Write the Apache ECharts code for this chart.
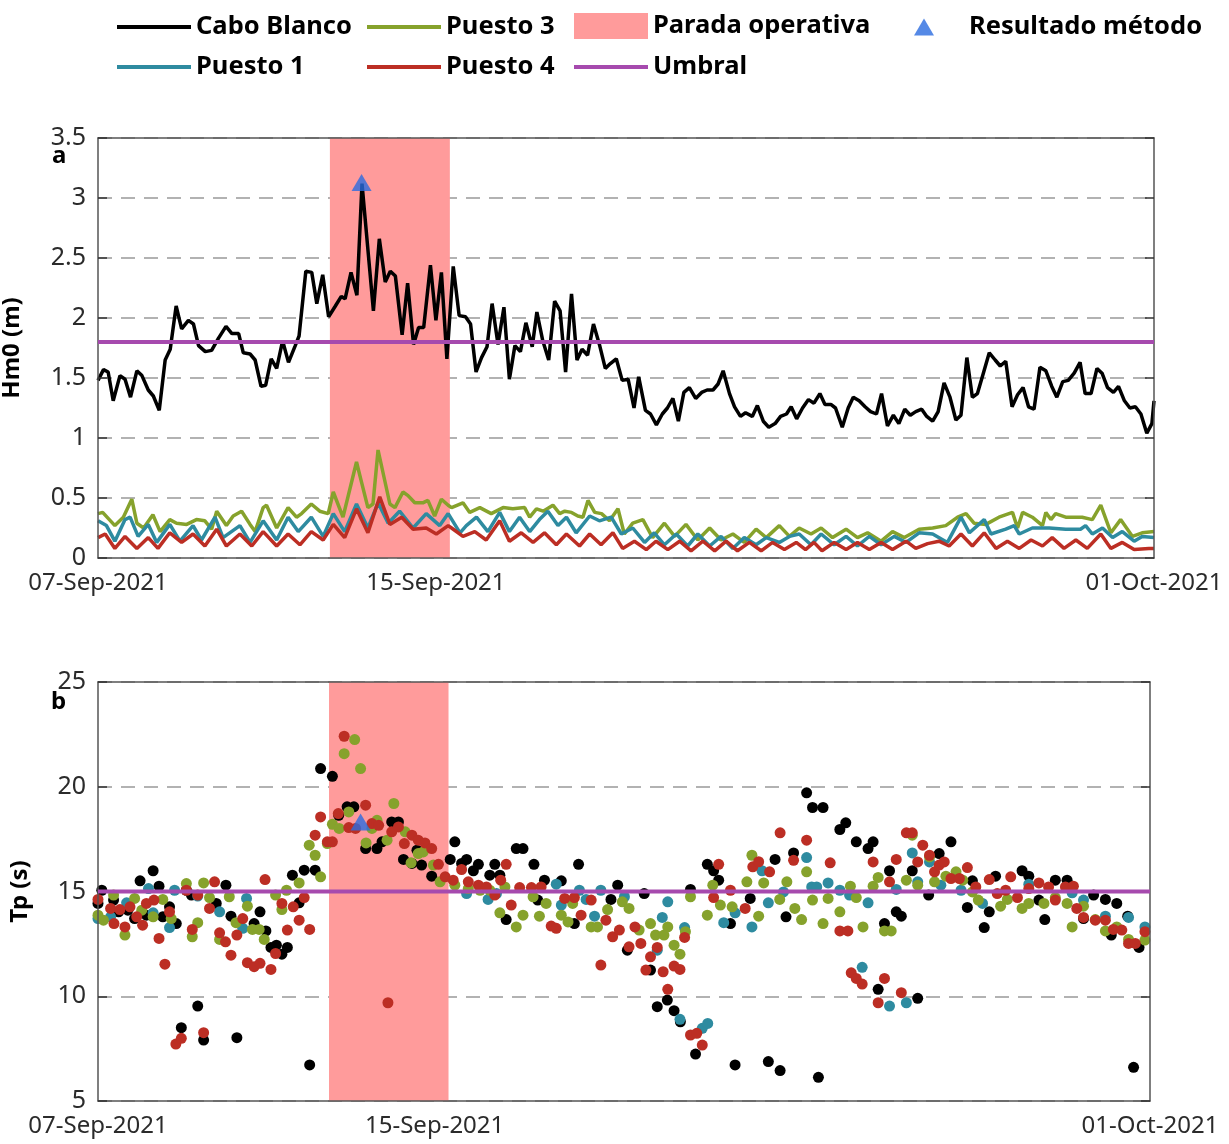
<!DOCTYPE html>
<html>
<head>
<meta charset="utf-8">
<script src="https://cdn.jsdelivr.net/npm/echarts@6/dist/echarts.min.js"></script>
<style>html,body{margin:0;padding:0;background:#fff}#chart{width:1229px;height:1144px}</style>
</head>
<body>
<div id="chart"></div>
<script>
// x values are days counted from 07-Sep-2021 00:00
var xLabelDays = [0, 8, 25];
var xLabelText = ['07-Sep-2021', '15-Sep-2021', '01-Oct-2021'];

var paradaStart = 5.49, paradaEnd = 8.33;
var umbralHm0 = 1.8, umbralTp = 15;
var resultadoHm0 = [[6.24, 3.13]];
var resultadoTp = [[6.24, 18.32]];

// Hm0 (m)
var caboHm0 = [[0,1.48],[0.13,1.57],[0.24,1.55],[0.36,1.31],[0.52,1.52],[0.64,1.49],[0.77,1.34],[0.92,1.56],[1.04,1.52],[1.19,1.40],[1.31,1.35],[1.45,1.23],[1.59,1.65],[1.71,1.74],[1.85,2.10],[1.98,1.91],[2.14,1.98],[2.26,1.95],[2.38,1.77],[2.54,1.72],[2.69,1.73],[2.85,1.83],[3.03,1.93],[3.17,1.87],[3.33,1.87],[3.44,1.71],[3.60,1.70],[3.72,1.65],[3.86,1.43],[3.97,1.44],[4.10,1.66],[4.23,1.58],[4.37,1.81],[4.51,1.63],[4.67,1.77],[4.76,1.85],[4.92,2.39],[5.06,2.38],[5.18,2.12],[5.32,2.36],[5.46,2.01],[5.62,2.10],[5.76,2.18],[5.85,2.16],[5.99,2.38],[6.13,2.19],[6.25,3.12],[6.52,2.06],[6.66,2.66],[6.80,2.30],[6.92,2.39],[7.04,2.35],[7.20,1.86],[7.33,2.29],[7.47,1.78],[7.59,1.92],[7.71,1.92],[7.87,2.44],[8.00,1.98],[8.13,2.38],[8.26,1.66],[8.41,2.43],[8.55,2.02],[8.70,2.01],[8.82,1.95],[8.95,1.55],[9.08,1.67],[9.21,1.76],[9.33,2.12],[9.47,1.78],[9.61,2.09],[9.74,1.49],[9.87,1.77],[10.00,1.72],[10.13,1.96],[10.28,1.76],[10.39,2.05],[10.53,1.81],[10.67,1.65],[10.81,2.14],[10.94,2.06],[11.07,1.55],[11.21,2.20],[11.34,1.65],[11.46,1.74],[11.59,1.69],[11.73,1.95],[11.87,1.78],[12.01,1.58],[12.13,1.62],[12.27,1.66],[12.41,1.48],[12.55,1.49],[12.69,1.25],[12.80,1.51],[12.96,1.23],[13.08,1.20],[13.22,1.11],[13.36,1.20],[13.48,1.25],[13.61,1.33],[13.74,1.14],[13.87,1.38],[14.00,1.42],[14.15,1.33],[14.29,1.38],[14.42,1.40],[14.56,1.40],[14.68,1.45],[14.80,1.56],[14.95,1.37],[15.07,1.26],[15.21,1.18],[15.33,1.21],[15.49,1.18],[15.61,1.27],[15.75,1.14],[15.88,1.09],[16.03,1.12],[16.16,1.18],[16.30,1.20],[16.41,1.26],[16.54,1.16],[16.68,1.25],[16.82,1.32],[16.95,1.29],[17.09,1.37],[17.21,1.28],[17.35,1.28],[17.46,1.25],[17.62,1.09],[17.76,1.25],[17.88,1.34],[18.02,1.31],[18.16,1.26],[18.29,1.22],[18.43,1.20],[18.55,1.37],[18.69,1.10],[18.83,1.19],[18.96,1.12],[19.10,1.24],[19.23,1.19],[19.36,1.22],[19.50,1.24],[19.62,1.18],[19.76,1.14],[19.89,1.22],[20.03,1.46],[20.17,1.34],[20.31,1.15],[20.43,1.19],[20.57,1.67],[20.70,1.34],[20.82,1.37],[20.96,1.54],[21.10,1.71],[21.24,1.65],[21.36,1.60],[21.49,1.64],[21.64,1.26],[21.77,1.36],[21.90,1.42],[22.03,1.26],[22.16,1.24],[22.30,1.59],[22.44,1.56],[22.58,1.43],[22.70,1.34],[22.84,1.47],[22.97,1.48],[23.11,1.54],[23.25,1.63],[23.37,1.37],[23.51,1.37],[23.65,1.58],[23.77,1.54],[23.90,1.42],[24.04,1.38],[24.16,1.43],[24.30,1.31],[24.43,1.25],[24.56,1.26],[24.69,1.20],[24.83,1.04],[24.95,1.12],[25.00,1.31]];

var puesto1Hm0 = [[0,0.31],[0.20,0.27],[0.40,0.14],[0.64,0.32],[0.76,0.34],[0.95,0.18],[1.19,0.28],[1.39,0.13],[1.70,0.28],[1.94,0.14],[2.25,0.27],[2.45,0.15],[2.77,0.34],[2.96,0.17],[3.36,0.27],[3.60,0.13],[3.91,0.31],[4.23,0.15],[4.50,0.34],[4.74,0.22],[5.05,0.34],[5.33,0.18],[5.57,0.37],[5.84,0.22],[6.12,0.45],[6.39,0.25],[6.63,0.46],[6.87,0.29],[7.14,0.39],[7.46,0.25],[7.77,0.37],[8.09,0.27],[8.29,0.37],[8.57,0.21],[8.72,0.27],[8.96,0.34],[9.23,0.22],[9.51,0.38],[9.74,0.22],[9.98,0.34],[10.22,0.22],[10.45,0.32],[10.65,0.39],[10.89,0.27],[11.09,0.34],[11.32,0.21],[11.64,0.35],[11.87,0.31],[12.15,0.34],[12.39,0.20],[12.66,0.25],[12.94,0.13],[13.17,0.21],[13.41,0.11],[13.69,0.20],[13.96,0.10],[14.20,0.20],[14.48,0.10],[14.75,0.18],[15.03,0.08],[15.30,0.17],[15.58,0.11],[15.82,0.17],[16.13,0.13],[16.37,0.18],[16.60,0.20],[16.88,0.11],[17.12,0.20],[17.43,0.11],[17.71,0.18],[17.98,0.10],[18.26,0.18],[18.54,0.11],[18.85,0.18],[19.13,0.13],[19.44,0.21],[19.76,0.20],[20.11,0.13],[20.43,0.34],[20.63,0.21],[20.98,0.32],[21.14,0.20],[21.49,0.24],[21.69,0.27],[21.81,0.20],[22.12,0.25],[22.52,0.25],[22.91,0.24],[23.26,0.24],[23.38,0.27],[23.54,0.20],[23.78,0.25],[24.02,0.17],[24.25,0.22],[24.53,0.14],[24.72,0.18],[25.00,0.17]];

var puesto3Hm0 = [[0,0.37],[0.11,0.38],[0.40,0.27],[0.60,0.34],[0.80,0.49],[0.92,0.29],[1.08,0.25],[1.30,0.36],[1.47,0.22],[1.70,0.32],[1.86,0.29],[2.10,0.28],[2.33,0.32],[2.53,0.31],[2.69,0.24],[2.81,0.39],[3.04,0.27],[3.20,0.35],[3.40,0.39],[3.60,0.28],[3.72,0.22],[3.91,0.42],[3.99,0.44],[4.23,0.25],[4.50,0.42],[4.70,0.34],[4.82,0.37],[5.05,0.45],[5.25,0.39],[5.45,0.37],[5.57,0.55],[5.80,0.34],[6.12,0.80],[6.24,0.63],[6.39,0.42],[6.51,0.45],[6.63,0.90],[6.91,0.45],[7.03,0.42],[7.22,0.55],[7.34,0.52],[7.50,0.46],[7.69,0.46],[7.81,0.48],[7.97,0.35],[8.13,0.49],[8.29,0.44],[8.37,0.42],[8.64,0.46],[8.80,0.38],[9.04,0.42],[9.31,0.37],[9.59,0.42],[9.82,0.41],[10.10,0.42],[10.22,0.34],[10.38,0.41],[10.54,0.39],[10.77,0.44],[10.93,0.37],[11.05,0.39],[11.21,0.38],[11.36,0.35],[11.48,0.34],[11.60,0.48],[11.76,0.38],[11.92,0.37],[12.11,0.31],[12.31,0.41],[12.46,0.20],[12.66,0.29],[12.90,0.32],[13.13,0.17],[13.41,0.29],[13.65,0.18],[13.92,0.28],[14.20,0.15],[14.48,0.25],[14.75,0.15],[15.03,0.20],[15.30,0.13],[15.58,0.24],[15.82,0.17],[16.13,0.27],[16.37,0.18],[16.60,0.25],[16.88,0.20],[17.12,0.25],[17.39,0.17],[17.71,0.24],[17.98,0.17],[18.22,0.21],[18.54,0.14],[18.81,0.22],[19.09,0.17],[19.44,0.24],[19.76,0.25],[20.07,0.27],[20.35,0.34],[20.55,0.37],[20.74,0.29],[21.02,0.28],[21.33,0.34],[21.65,0.38],[21.77,0.25],[21.89,0.38],[22.12,0.34],[22.36,0.27],[22.44,0.38],[22.56,0.32],[22.67,0.37],[22.91,0.34],[23.30,0.34],[23.54,0.32],[23.74,0.44],[23.98,0.21],[24.21,0.32],[24.49,0.18],[24.72,0.21],[25.00,0.22]];

var puesto4Hm0 = [[0,0.17],[0.17,0.20],[0.40,0.08],[0.64,0.18],[0.92,0.08],[1.19,0.17],[1.42,0.08],[1.70,0.21],[1.98,0.13],[2.25,0.20],[2.53,0.10],[2.81,0.24],[3.04,0.10],[3.36,0.20],[3.64,0.10],[3.91,0.22],[4.23,0.10],[4.50,0.20],[4.78,0.11],[5.05,0.22],[5.33,0.15],[5.57,0.28],[5.84,0.17],[6.12,0.41],[6.39,0.21],[6.67,0.51],[6.91,0.28],[7.19,0.34],[7.46,0.24],[7.77,0.25],[8.01,0.20],[8.29,0.27],[8.37,0.25],[8.64,0.18],[8.92,0.22],[9.19,0.15],[9.51,0.31],[9.74,0.14],[10.02,0.21],[10.30,0.13],[10.57,0.21],[10.85,0.11],[11.09,0.20],[11.40,0.10],[11.64,0.20],[11.91,0.11],[12.19,0.21],[12.42,0.08],[12.70,0.14],[12.98,0.07],[13.21,0.14],[13.49,0.07],[13.77,0.14],[14.04,0.06],[14.32,0.14],[14.60,0.06],[14.87,0.14],[15.14,0.06],[15.42,0.13],[15.70,0.06],[15.97,0.13],[16.25,0.07],[16.53,0.13],[16.75,0.07],[16.95,0.13],[17.14,0.06],[17.43,0.13],[17.71,0.07],[17.98,0.13],[18.26,0.07],[18.54,0.13],[18.81,0.07],[19.13,0.14],[19.36,0.08],[19.64,0.12],[19.91,0.14],[20.15,0.10],[20.43,0.20],[20.70,0.10],[20.98,0.21],[21.26,0.08],[21.53,0.14],[21.81,0.08],[22.09,0.15],[22.36,0.10],[22.59,0.17],[22.87,0.08],[23.15,0.15],[23.42,0.08],[23.74,0.20],[23.98,0.08],[24.25,0.13],[24.53,0.07],[24.88,0.08],[25.00,0.08]];

// Tp (s)
var caboTp = [[0,14.43],[0.09,15.06],[0.37,14.59],[0.49,14.03],[0.71,14.11],[0.87,13.71],[1.0,15.51],[1.15,13.87],[1.31,15.99],[1.45,15.25],[1.54,13.79],[1.70,14.27],[1.86,13.47],[1.98,8.50],[2.10,15.06],[2.22,14.83],[2.37,9.53],[2.51,7.91],[2.81,14.43],[3.04,15.30],[3.16,13.82],[3.30,8.02],[3.71,13.47],[3.85,14.03],[3.99,13.12],[4.11,12.33],[4.24,12.44],[4.37,12.01],[4.50,12.33],[4.62,15.78],[4.78,14.46],[4.90,16.02],[5.03,6.72],[5.16,16.02],[5.29,20.87],[5.57,20.50],[5.72,18.64],[5.92,19.04],[6.08,19.04],[6.36,17.05],[6.63,17.05],[6.75,17.37],[6.98,18.32],[7.14,18.32],[7.26,16.53],[7.46,16.34],[7.58,16.97],[7.69,16.26],[7.93,15.73],[8.37,16.53],[8.48,17.37],[8.64,16.34],[8.76,16.53],[8.92,15.99],[9.04,16.30],[9.31,15.78],[9.43,16.30],[9.55,15.78],[9.70,13.66],[9.94,17.05],[10.10,17.05],[10.36,16.30],[10.45,14.59],[10.61,15.54],[11.01,15.51],[11.32,13.47],[11.42,16.30],[12.19,14.62],[12.35,15.30],[12.58,12.20],[12.98,14.90],[13.13,11.25],[13.29,9.50],[13.53,9.82],[13.69,9.31],[13.84,8.78],[14.08,15.10],[14.20,7.24],[14.48,16.30],[14.63,15.99],[14.75,15.54],[15.03,13.47],[15.14,6.72],[15.50,14.67],[15.93,6.88],[16.09,16.53],[16.21,6.45],[16.35,13.79],[16.53,16.84],[16.84,19.71],[16.98,19.01],[17.12,6.13],[17.23,19.01],[17.63,17.96],[17.77,18.28],[18.02,17.37],[18.30,17.05],[18.42,17.37],[18.54,10.33],[18.69,13.47],[18.81,15.99],[18.97,14.03],[19.09,13.82],[19.35,15.99],[19.48,9.90],[19.74,14.83],[19.99,16.81],[20.27,17.37],[20.66,14.24],[20.78,15.51],[21.06,13.28],[21.18,14.03],[21.33,15.73],[21.96,15.99],[22.12,15.73],[22.36,14.59],[22.50,13.66],[22.75,15.54],[23.03,15.54],[23.42,13.71],[23.66,14.83],[23.94,14.62],[24.08,12.92],[24.21,14.43],[24.47,13.82],[24.61,6.61],[24.74,12.33]];

var puesto1Tp = [[0,13.71],[0.30,13.79],[0.68,14.46],[1.20,15.14],[1.31,13.98],[1.70,13.28],[1.82,15.06],[2.37,14.78],[2.89,14.03],[3.44,13.24],[3.53,14.67],[8.76,14.90],[9.27,14.62],[9.47,14.90],[10.89,15.35],[11.01,14.35],[11.44,15.06],[11.60,14.62],[11.80,13.82],[11.95,15.06],[12.51,14.75],[13.29,12.20],[13.41,13.76],[13.54,14.51],[13.83,8.90],[13.94,13.28],[14.36,8.47],[14.49,8.70],[14.87,13.51],[15.14,13.98],[15.54,13.31],[15.78,15.99],[15.93,14.46],[16.29,14.98],[16.84,16.62],[16.96,15.22],[17.08,15.22],[17.35,15.41],[17.63,15.06],[17.86,14.83],[18.16,11.38],[18.30,14.46],[18.81,9.53],[18.97,15.10],[19.21,9.69],[19.35,16.84],[19.48,15.46],[19.76,16.41],[20.03,15.30],[20.51,15.06],[21.02,14.43],[22.12,15.35],[23.15,14.94],[23.42,14.59],[23.94,13.82],[24.49,13.76],[24.88,13.31]];

var puesto3Tp = [[0,13.87],[0.13,13.63],[0.37,14.83],[0.64,12.92],[0.87,14.67],[1.04,14.11],[1.31,13.79],[1.54,14.62],[1.74,13.71],[2.10,15.38],[2.24,12.84],[2.37,13.51],[2.51,15.41],[2.65,14.71],[2.89,12.71],[3.12,14.75],[3.28,13.51],[3.55,14.30],[3.67,13.19],[3.83,13.19],[3.95,12.71],[4.22,14.83],[4.37,14.14],[4.48,15.06],[4.78,15.41],[5.02,17.21],[5.16,16.73],[5.29,15.70],[5.45,17.29],[5.57,18.21],[5.73,18.01],[5.85,21.58],[5.96,18.80],[6.10,22.25],[6.24,20.87],[6.37,17.32],[6.51,18.01],[6.63,18.40],[6.87,17.45],[7.03,19.20],[7.30,17.85],[7.44,16.37],[7.61,16.81],[7.73,16.89],[7.97,16.26],[8.13,15.46],[8.48,15.30],[8.80,15.14],[9.08,15.06],[9.31,15.06],[9.55,13.98],[9.67,15.22],[9.94,13.31],[10.10,13.87],[10.34,14.75],[10.49,13.82],[10.65,14.43],[11.01,13.87],[11.17,13.55],[11.28,14.43],[11.72,13.31],[11.87,13.31],[12.11,14.14],[12.46,14.51],[12.62,14.19],[12.86,13.16],[13.13,13.47],[13.25,12.92],[13.45,12.92],[13.54,13.31],[13.69,12.44],[13.83,12.01],[13.96,13.08],[14.08,14.75],[14.48,13.87],[14.61,15.30],[14.79,14.35],[15.07,14.27],[15.42,15.46],[15.54,16.73],[15.70,13.82],[15.82,15.41],[16.20,14.62],[16.37,15.46],[16.56,14.19],[16.72,13.66],[16.84,15.94],[16.98,14.59],[17.23,13.47],[17.35,14.67],[17.63,14.03],[17.88,15.25],[18.02,14.71],[18.18,13.31],[18.42,15.25],[18.54,15.67],[18.69,13.12],[18.85,13.12],[19.21,15.54],[19.35,17.69],[19.48,15.30],[19.76,16.65],[19.88,15.46],[20.15,15.73],[20.39,15.94],[20.55,15.54],[20.78,14.98],[20.92,14.59],[21.45,14.30],[21.61,14.62],[21.96,14.19],[22.12,14.43],[22.48,14.43],[22.75,14.71],[23.03,14.43],[23.15,13.31],[23.42,14.30],[23.70,13.66],[23.94,13.12],[24.21,13.31],[24.49,12.71],[24.88,12.68]];

var puesto4Tp = [[0,14.62],[0.30,14.19],[0.38,13.47],[0.52,14.14],[0.64,13.31],[0.76,14.27],[0.92,13.79],[1.06,13.39],[1.15,14.43],[1.33,14.59],[1.45,12.76],[1.59,11.53],[1.70,14.03],[1.85,7.72],[1.98,7.99],[2.10,15.06],[2.24,13.19],[2.37,14.83],[2.51,8.26],[2.65,14.19],[2.77,15.46],[2.89,13.03],[3.03,12.60],[3.16,11.96],[3.30,12.92],[3.44,13.71],[3.55,11.60],[3.71,11.41],[3.85,11.57],[3.97,15.57],[4.11,11.28],[4.22,12.04],[4.37,14.43],[4.50,13.16],[4.64,14.27],[4.78,13.63],[4.90,14.71],[5.03,13.19],[5.16,17.69],[5.29,18.56],[5.45,17.37],[5.57,17.37],[5.71,18.72],[5.85,22.41],[5.96,18.05],[6.12,18.01],[6.36,19.12],[6.51,18.24],[6.67,18.16],[6.89,9.69],[6.98,17.85],[7.14,18.08],[7.28,17.29],[7.46,17.69],[7.61,17.45],[7.77,17.32],[7.93,17.05],[8.09,16.30],[8.25,15.70],[8.44,15.54],[8.64,16.05],[8.80,15.46],[9.04,15.30],[9.23,15.22],[9.43,14.83],[9.57,15.54],[9.70,16.30],[9.82,14.35],[10.02,15.19],[10.30,15.19],[10.53,15.22],[10.77,13.35],[10.89,13.24],[11.09,14.67],[11.32,14.71],[11.48,13.87],[11.72,14.59],[11.95,11.49],[12.07,13.63],[12.23,12.84],[12.39,13.16],[12.62,12.36],[12.76,13.31],[12.90,12.52],[13.02,11.25],[13.13,11.88],[13.29,12.33],[13.43,11.17],[13.54,10.33],[13.69,11.44],[13.83,11.28],[13.94,12.81],[14.08,8.15],[14.23,8.23],[14.36,7.67],[14.63,14.71],[14.75,16.30],[15.03,15.06],[15.38,14.19],[15.56,16.18],[15.70,16.42],[15.96,15.94],[16.21,17.80],[16.53,16.49],[16.84,17.45],[17.40,16.37],[17.63,13.12],[17.82,13.12],[17.90,11.12],[18.02,10.85],[18.16,10.58],[18.42,16.41],[18.54,9.69],[18.69,10.85],[18.81,15.46],[18.97,16.53],[19.09,10.17],[19.21,17.80],[19.35,17.80],[19.48,16.41],[19.60,17.21],[19.76,16.73],[19.88,15.94],[19.99,16.26],[20.11,16.41],[20.27,15.62],[20.47,15.62],[20.66,16.14],[20.86,15.22],[21.18,15.57],[21.37,14.90],[21.57,15.06],[21.69,15.70],[21.85,14.71],[22.12,15.14],[22.36,15.41],[22.59,15.22],[22.75,14.59],[22.99,15.22],[23.18,15.25],[23.26,14.19],[23.42,13.76],[23.70,13.63],[23.94,13.63],[24.13,13.19],[24.33,13.16],[24.49,12.52],[24.65,12.52],[24.88,13.08]];

var colCabo = '#000000', colP1 = '#2E8BA0', colP3 = '#86A22C', colP4 = '#BC2E24';
var colUmbral = '#A64AAE', colParada = '#FF9B9B', colResultado = '#2A6BE0';
var fontName = 'Noto Sans';

var dom = document.getElementById('chart');
var myChart = echarts.init(dom);

function xLabel(v) {
    var i = xLabelDays.indexOf(v);
    return i >= 0 ? xLabelText[i] : '';
}
function bottomX(gi) {
    return {type: 'value', gridIndex: gi, min: 0, max: 25, interval: 1, z: 3,
        axisLine: {show: true, onZero: false, lineStyle: {color: '#555', width: 1.5}},
        axisTick: {show: false}, splitLine: {show: false},
        axisLabel: {margin: 13, fontSize: 24, color: '#2b2b2b', fontFamily: fontName,
            formatter: xLabel, showMinLabel: true, showMaxLabel: true}};
}
function topX(gi) {
    return {type: 'value', gridIndex: gi, position: 'top', min: 0, max: 25, z: 3,
        axisLine: {show: true, onZero: false, lineStyle: {color: '#555', width: 1.5}},
        axisTick: {show: false}, splitLine: {show: false}, axisLabel: {show: false}};
}
function leftY(gi, mn, mx, step, name, gap) {
    return {type: 'value', gridIndex: gi, min: mn, max: mx, interval: step, z: 3,
        name: name, nameLocation: 'middle', nameGap: gap,
        nameTextStyle: {fontSize: 24, fontWeight: 'bold', color: '#000', fontFamily: fontName},
        axisLine: {show: true, onZero: false, lineStyle: {color: '#555', width: 1.5}},
        axisTick: {show: true, inside: true, length: 9, lineStyle: {color: '#333', width: 1.5}},
        axisLabel: {margin: 12, fontSize: 25, color: '#2b2b2b', fontFamily: fontName},
        splitLine: {show: false}};
}
function rightY(gi, mn, mx, step) {
    return {type: 'value', gridIndex: gi, position: 'right', min: mn, max: mx, interval: step, z: 3,
        axisLine: {show: true, onZero: false, lineStyle: {color: '#555', width: 1.5}},
        axisTick: {show: true, inside: true, length: 9, lineStyle: {color: '#333', width: 1.5}},
        axisLabel: {show: false}, splitLine: {show: false}};
}
function gridY(gi, mn, mx, step) {
    return {type: 'value', gridIndex: gi, position: 'left', min: mn, max: mx, interval: step, z: 0,
        axisLine: {show: false}, axisTick: {show: false}, axisLabel: {show: false},
        splitLine: {show: true, lineStyle: {color: '#999', width: 1.5, type: [14, 9]}}};
}
function lineSeries(name, data, color, xi, yi, w) {
    return {name: name, type: 'line', xAxisIndex: xi, yAxisIndex: yi, data: data,
        showSymbol: false, z: 2, color: color, lineStyle: {color: color, width: w}};
}
function dotSeries(name, data, color, xi, yi) {
    return {name: name, type: 'scatter', xAxisIndex: xi, yAxisIndex: yi, data: data,
        symbolSize: 11, z: 2, color: color, itemStyle: {color: color, opacity: 1}};
}
function paradaSeries(xi, yi) {
    return {name: 'Parada operativa', type: 'line', xAxisIndex: xi, yAxisIndex: yi, data: [],
        z: 1, color: colParada,
        markArea: {silent: true, itemStyle: {color: colParada, opacity: 1},
            data: [[{xAxis: paradaStart}, {xAxis: paradaEnd}]]}};
}
function umbralSeries(v, xi, yi) {
    return {name: 'Umbral', type: 'line', xAxisIndex: xi, yAxisIndex: yi,
        data: [[0, v], [25, v]], showSymbol: false, z: 3, color: colUmbral,
        lineStyle: {color: colUmbral, width: 4}};
}
function resultadoSeries(data, xi, yi) {
    return {name: 'Resultado método', type: 'scatter', xAxisIndex: xi, yAxisIndex: yi, data: data,
        symbol: 'triangle', symbolSize: [20, 17], z: 4, color: colResultado,
        itemStyle: {color: colResultado}};
}
function legendItem(name, left, top, icon, w, h, color, pad) {
    return {left: left, top: top, padding: 0, selectedMode: false, orient: 'horizontal',
        itemWidth: w, itemHeight: h, icon: icon,
        data: [{name: name, itemStyle: {color: color}}],
        textStyle: {fontSize: 25.5, fontWeight: 'bold', color: '#000', fontFamily: fontName,
            padding: [0, 0, 0, pad || 0]}};
}

var option = {
    animation: false,
    backgroundColor: '#fff',
    grid: [
        {left: 98, top: 138, width: 1056, height: 420, containLabel: false, outerBoundsMode: 'none'},
        {left: 98, top: 682, width: 1052, height: 419, containLabel: false, outerBoundsMode: 'none'}
    ],
    xAxis: [bottomX(0), topX(0), bottomX(1), topX(1)],
    yAxis: [
        leftY(0, 0, 3.5, 0.5, 'Hm0 (m)', 74), rightY(0, 0, 3.5, 0.5), gridY(0, 0, 3.5, 0.5),
        leftY(1, 5, 25, 5, 'Tp (s)', 66), rightY(1, 5, 25, 5), gridY(1, 5, 25, 5)
    ],
    legend: [
        legendItem('Cabo Blanco', 117, 14, 'rect', 74, 4, colCabo),
        legendItem('Puesto 3', 367, 14, 'rect', 74, 4, colP3),
        legendItem('Parada operativa', 574, 13, 'rect', 74, 26, colParada),
        legendItem('Resultado método', 914, 14, 'triangle', 20, 17, colResultado, 30),
        legendItem('Puesto 1', 117, 54, 'rect', 74, 4, colP1),
        legendItem('Puesto 4', 367, 54, 'rect', 74, 4, colP4),
        legendItem('Umbral', 574, 54, 'rect', 74, 4, colUmbral)
    ],
    graphic: [
        {type: 'text', left: 52, top: 144, z: 10,
            style: {text: 'a', font: 'bold 24px "Noto Sans"', fill: '#000'}},
        {type: 'text', left: 51, top: 690, z: 10,
            style: {text: 'b', font: 'bold 24px "Noto Sans"', fill: '#000'}}
    ],
    series: [
        paradaSeries(0, 0),
        lineSeries('Cabo Blanco', caboHm0, colCabo, 0, 0, 3.5),
        lineSeries('Puesto 3', puesto3Hm0, colP3, 0, 0, 3.5),
        lineSeries('Puesto 1', puesto1Hm0, colP1, 0, 0, 3.5),
        lineSeries('Puesto 4', puesto4Hm0, colP4, 0, 0, 3.5),
        umbralSeries(umbralHm0, 0, 0),
        resultadoSeries(resultadoHm0, 0, 0),

        paradaSeries(2, 3),
        dotSeries('Cabo Blanco', caboTp, colCabo, 2, 3),
        dotSeries('Puesto 1', puesto1Tp, colP1, 2, 3),
        dotSeries('Puesto 3', puesto3Tp, colP3, 2, 3),
        dotSeries('Puesto 4', puesto4Tp, colP4, 2, 3),
        umbralSeries(umbralTp, 2, 3),
        resultadoSeries(resultadoTp, 2, 3)
    ]
};
myChart.setOption(option);
</script>
</body>
</html>
